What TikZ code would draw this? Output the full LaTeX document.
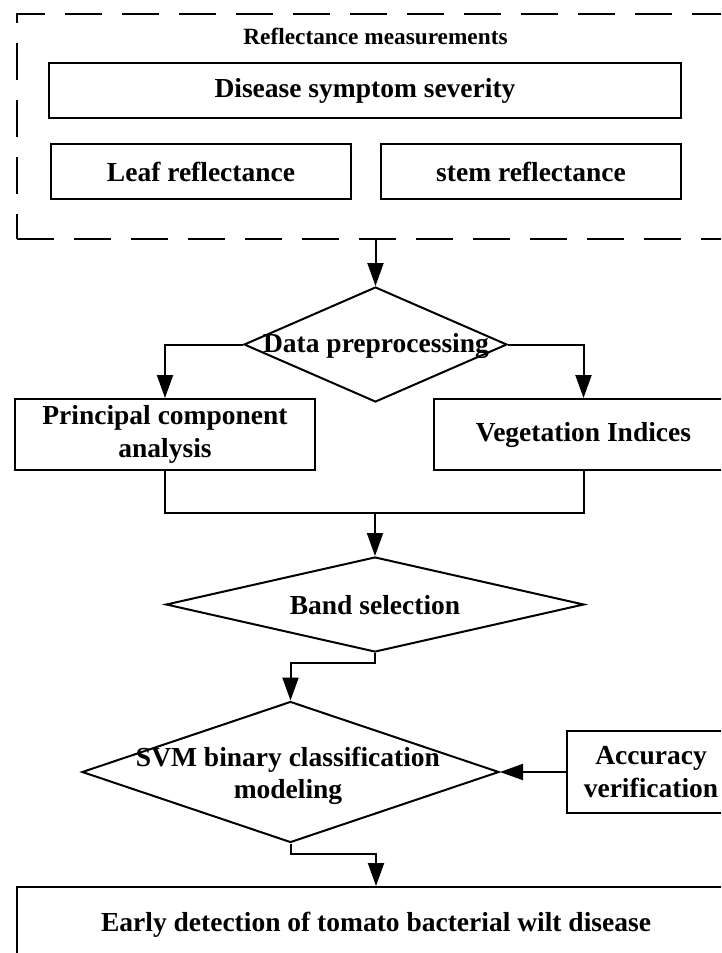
\documentclass[tikz,border=0pt]{standalone}
\usepackage{fontspec}
\setmainfont{Liberation Serif}
\usetikzlibrary{shapes.geometric,arrows.meta}
\tikzset{
  lw/.style={line width=2pt},
  boxnode/.style={draw, lw, rectangle, inner sep=0pt, align=center,
    font=\bfseries\fontsize{27.5}{33}\selectfont},
  dmd/.style={draw, lw, diamond, inner sep=0pt},
  txt/.style={inner sep=0pt, align=center, font=\bfseries\fontsize{27.5}{32}\selectfont},
  conn/.style={lw},
  arr/.style={lw, -{Triangle[length=23pt,width=16pt]}},
  dashbox/.style={draw, lw, dash pattern=on 37pt off 20pt, rectangle, inner sep=0pt}
}
\begin{document}
\begin{tikzpicture}[x=1pt,y=-1pt]
\clip (0,0) rectangle (721,953);
\fill[white] (0,0) rectangle (721,953);
% dashed container
\node[dashbox, minimum width=728pt, minimum height=225pt] (meas) at (381,126.5) {};
\node[inner sep=0pt, font=\bfseries\fontsize{23.3}{28}\selectfont] (title) at (375.5,36) {Reflectance measurements};
\node[boxnode, minimum width=632pt, minimum height=55pt] (dis) at (365,90.5) {Disease symptom severity};
\node[boxnode, minimum width=300pt, minimum height=55pt] (leaf) at (201,171.5) {Leaf reflectance};
\node[boxnode, minimum width=300pt, minimum height=55pt] (stem) at (531,171.5) {stem reflectance};
% data preprocessing
\node[dmd, minimum width=263pt, minimum height=115pt] (dp) at (375.5,344.5) {};
\node[txt] (dpt) at (376,346) {Data preprocessing};
% PCA and VI
\node[boxnode, minimum width=300pt, minimum height=71pt] (pca) at (165,434.5) {Principal component\\analysis};
\node[boxnode, minimum width=299pt, minimum height=71pt] (veg) at (583.5,434.5) {Vegetation Indices};
% band selection
\node[dmd, minimum width=418pt, minimum height=95pt] (band) at (375,604.5) {};
\node[txt] (bandt) at (375,605) {Band selection};
% SVM
\node[dmd, minimum width=417pt, minimum height=141pt] (svm) at (290.5,772) {};
\node[txt] (svmt) at (288,776) {SVM binary classification\\modeling};
% accuracy
\node[boxnode, minimum width=168pt, minimum height=82pt] (acc) at (651,772) {Accuracy\\verification};
% early detection
\node[boxnode, minimum width=718pt, minimum height=76pt] (early) at (376,925) {Early detection of tomato bacterial wilt disease};
% connectors
\draw[arr] (dp.north |- meas.south) -- (dp.north);
\draw[arr] (dp.west) -| (pca.north);
\draw[arr] (dp.east) -| (veg.north);
\coordinate (join) at (375,513);
\draw[conn] (pca.south) |- (join) -| (veg.south);
\draw[arr] (join) -- (band.north);
\coordinate (b1) at (375,663);
\draw[arr] (band.south) -- (b1) -| (svm.north);
\coordinate (s1) at (290.5,854);
\draw[arr] (svm.south) -- (s1) -| (early.north);
\draw[arr] (acc.west) -- (svm.east);
\end{tikzpicture}
\end{document}
